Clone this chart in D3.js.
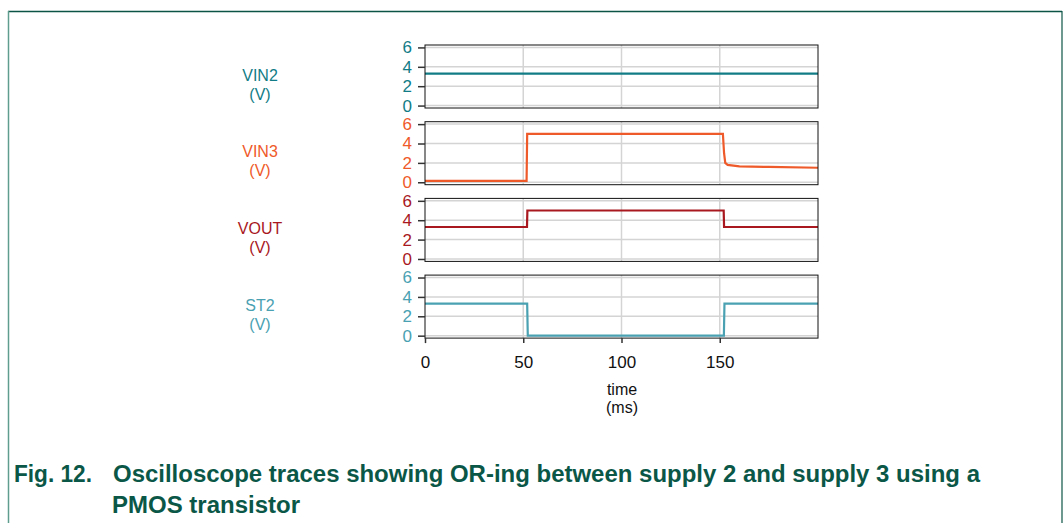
<!DOCTYPE html>
<html>
<head>
<meta charset="utf-8">
<script src="https://cdn.jsdelivr.net/npm/d3@7"></script>
<style>
  html, body { margin: 0; padding: 0; background: #fff; }
  svg { display: block; font-family: "Liberation Sans", Arial, sans-serif; }
</style>
</head>
<body>
<svg id="chart" width="1064" height="523"></svg>
<script>
// trace names and colours
const traceNames = ["VIN2", "VIN3", "VOUT", "ST2"];
const traceColors = ["#127c86", "#ef5a2a", "#a8181e", "#4aa1b2"];

// [time ms, volts] breakpoints
const vin2 = [[0, 3.3], [200, 3.3]];
const vin3 = [[0, 0.15], [51.7, 0.15], [52.0, 5.0], [151.6, 5.0], [152.2, 3.0], [152.8, 2.0],
              [154, 1.8], [160, 1.65], [175, 1.58], [200, 1.5]];
const vout = [[0, 3.3], [51.9, 3.3], [52.1, 5.0], [152.0, 5.0], [152.2, 3.3], [200, 3.3]];
const st2 = [[0, 3.3], [52.0, 3.3], [52.3, 0], [152.1, 0], [152.4, 3.3], [200, 3.3]];
const traces = [vin2, vin3, vout, st2];

const yTicks = [0, 2, 4, 6];
const xTicks = [0, 50, 100, 150];

const svg = d3.select("#chart");
const fontSize = "16px";
const tickSize = "17px";

// outer figure frame
svg.append("line").attr("x1", 8).attr("x2", 1062).attr("y1", 11.5).attr("y2", 11.5)
    .attr("stroke", "#0c5446").attr("stroke-width", 1.5);
svg.append("line").attr("x1", 8.5).attr("x2", 8.5).attr("y1", 11).attr("y2", 523)
    .attr("stroke", "#5f9e8e").attr("stroke-width", 1.5);
svg.append("line").attr("x1", 1062).attr("x2", 1062).attr("y1", 11).attr("y2", 523)
    .attr("stroke", "#0c5446").attr("stroke-width", 1.2);

// shared time scale
const x = d3.scaleLinear().domain([0, 200]).range([425, 818]);
const panelH = 63;

traces.forEach((data, i) => {
    const top = 45 + i * 76.7;
    const y = d3.scaleLinear().domain([-0.25, 6.25]).range([top + panelH, top]);
    const g = svg.append("g");
    const color = traceColors[i];

    // grid
    g.selectAll(".gy").data(yTicks).join("line")
        .attr("x1", x(0)).attr("x2", x(200))
        .attr("y1", d => y(d)).attr("y2", d => y(d))
        .attr("stroke", "#d4d4d4").attr("stroke-width", 1.5);
    g.selectAll(".gx").data(xTicks.slice(1)).join("line")
        .attr("x1", d => x(d)).attr("x2", d => x(d))
        .attr("y1", top).attr("y2", top + panelH)
        .attr("stroke", "#d4d4d4").attr("stroke-width", 1.5);

    // trace
    const line = d3.line().x(d => x(d[0])).y(d => y(d[1]));
    g.append("path").datum(data)
        .attr("d", line)
        .attr("fill", "none")
        .attr("stroke", color)
        .attr("stroke-width", 2.2);

    // frame
    g.append("rect").attr("x", x(0)).attr("y", top)
        .attr("width", x(200) - x(0)).attr("height", panelH)
        .attr("fill", "none").attr("stroke", "#111").attr("stroke-width", 1);

    // y axis
    const ay = g.append("g").attr("transform", `translate(${x(0)},0)`)
        .call(d3.axisLeft(y).tickValues(yTicks).tickSize(7).tickPadding(6).tickFormat(d3.format("d")));
    ay.select(".domain").remove();
    ay.selectAll(".tick line").attr("stroke", "#333").attr("stroke-width", 1.5);
    ay.selectAll(".tick text").attr("fill", color)
        .style("font-size", tickSize).style("font-family", "Liberation Sans, Arial, sans-serif");

    // trace label
    const mid = top + panelH / 2;
    g.append("text").attr("x", 260).attr("y", mid + 4).attr("text-anchor", "middle")
        .attr("fill", color).style("font-size", fontSize).text(traceNames[i]);
    g.append("text").attr("x", 260).attr("y", mid + 23).attr("text-anchor", "middle")
        .attr("fill", color).style("font-size", fontSize).text("(V)");

    // x axis on the last panel
    if (i === traces.length - 1) {
        const ax = g.append("g").attr("transform", `translate(0,${top + panelH})`)
            .call(d3.axisBottom(x).tickValues(xTicks).tickSize(5).tickPadding(13));
        ax.select(".domain").remove();
        ax.selectAll(".tick line").attr("stroke", "#333").attr("stroke-width", 1.5);
        ax.selectAll(".tick text").attr("fill", "#111")
            .style("font-size", tickSize).style("font-family", "Liberation Sans, Arial, sans-serif");
        svg.append("text").attr("x", 622).attr("y", 395).attr("text-anchor", "middle")
            .attr("fill", "#111").style("font-size", fontSize).text("time");
        svg.append("text").attr("x", 622).attr("y", 413).attr("text-anchor", "middle")
            .attr("fill", "#111").style("font-size", fontSize).text("(ms)");
    }
});

// caption
const capStyle = t => t.attr("fill", "#0b5747").style("font-size", "23px").style("font-weight", "bold")
    .style("font-family", "'Liberation Sans Narrow', 'Arial Narrow', 'Liberation Sans', Arial, sans-serif");
svg.append("text").attr("x", 14).attr("y", 482).attr("textLength", 78).attr("lengthAdjust", "spacingAndGlyphs")
    .call(capStyle).text("Fig. 12.");
svg.append("text").attr("x", 113).attr("y", 482).attr("textLength", 867).attr("lengthAdjust", "spacingAndGlyphs")
    .call(capStyle).text("Oscilloscope traces showing OR-ing between supply 2 and supply 3 using a");
svg.append("text").attr("x", 112).attr("y", 513).attr("textLength", 188).attr("lengthAdjust", "spacingAndGlyphs")
    .call(capStyle).text("PMOS transistor");
</script>
</body>
</html>
